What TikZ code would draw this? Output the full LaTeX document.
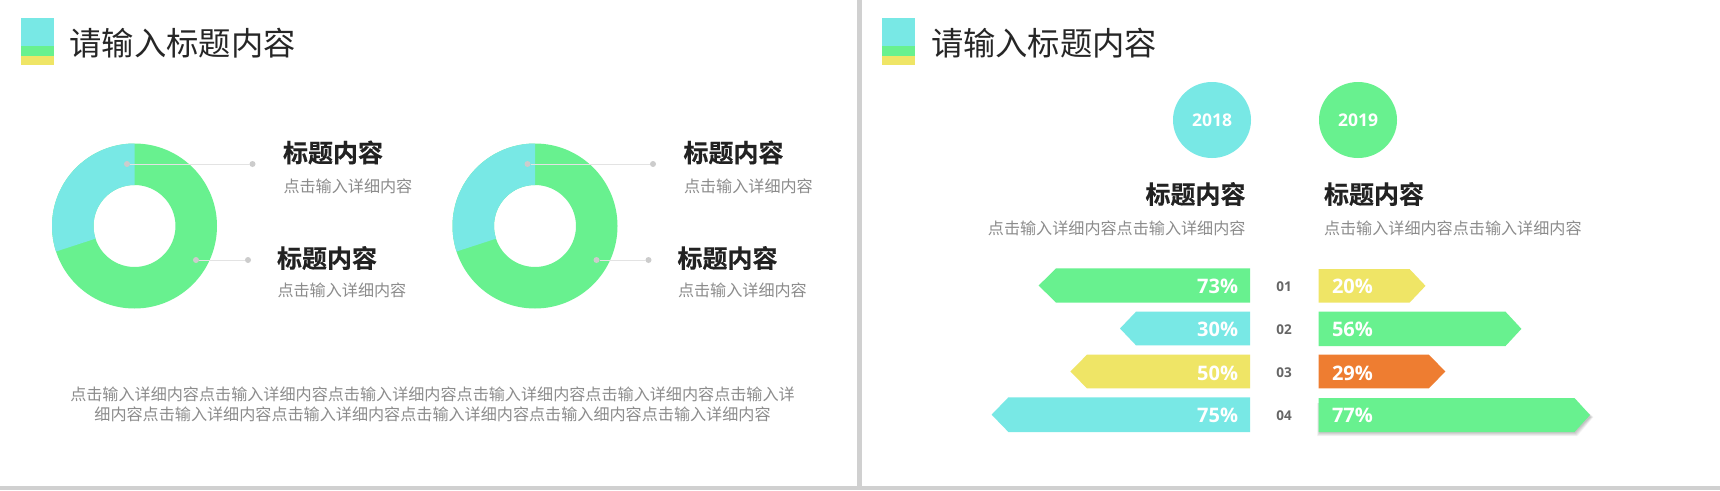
\documentclass[tikz,border=0pt]{standalone}
\usepackage{fontspec}
\setmainfont{Noto Sans CJK SC}
\newfontfamily\cjkreg{Noto Sans CJK SC}
\newfontfamily\cjkbold[FakeBold=0.35]{Noto Sans CJK SC Bold}
\newfontfamily\numfont{Open Sans Bold}
\definecolor{cy}{HTML}{78E8E5}
\definecolor{gr}{HTML}{68F18F}
\definecolor{ye}{HTML}{EFE566}
\definecolor{og}{HTML}{EE7D31}
\definecolor{sepc}{HTML}{D0D0D0}
\definecolor{ttl}{HTML}{262626}
\definecolor{hd}{HTML}{222222}
\definecolor{subc}{HTML}{8C8C8C}
\tikzset{
  x=1pt,y=-1pt,
  every node/.style={inner sep=0pt,outer sep=0pt},
  titletext/.style={font=\cjkreg\fontsize{32.3}{38}\selectfont,text=ttl,anchor=west},
  headtext/.style={font=\cjkbold\fontsize{25}{30}\selectfont,text=hd},
  subtext/.style={font=\cjkreg\fontsize{16.1}{20}\selectfont,text=subc},
  pct/.style={font=\numfont\fontsize{20}{24}\selectfont,text=white},
  rownum/.style={font=\numfont\fontsize{13.5}{16}\selectfont,text=black!60},
  yeartext/.style={font=\numfont\fontsize{17.5}{20}\selectfont,text=white},
  leaderdot/.style={circle,fill=black!20,minimum size=6pt},
  leader/.style={draw=black!11,line width=1pt},
}
\newcommand{\titlemark}[1]{%
  \fill[cy] (#1,18) rectangle ++(33,28);
  \fill[gr] (#1,46) rectangle ++(33,10);
  \fill[ye] (#1,56) rectangle ++(33,9);
}
\newcommand{\donut}[1]{%
  \fill[gr,even odd rule] (#1,226) circle[radius=82.5] (#1,226) circle[radius=41];
  \fill[cy] (#1,226) ++(-90:41) -- ++(-90:41.5) arc[start angle=-90,end angle=-198,radius=82.5] -- ++(-18:41.5) arc[start angle=-198,end angle=-90,radius=41] -- cycle;
}
\newcommand{\lbar}[5]{\fill[#1] (#2,{(#4+#5)/2}) -- (#3,#4) -- (1250,#4) -- (1250,#5) -- (#3,#5) -- cycle;}
\newcommand{\rbar}[5]{\fill[#1] (1318.6,#4) -- (#3,#4) -- (#2,{(#4+#5)/2}) -- (#3,#5) -- (1318.6,#5) -- cycle;}
\begin{document}
\begin{tikzpicture}
\useasboundingbox (0,0) rectangle (1720,490);
\fill[white] (0,0) rectangle (1720,490);
\fill[sepc] (857,0) rectangle (861.5,490);
\fill[sepc] (0,485.5) rectangle (1720,490);
\titlemark{21}
\titlemark{882.3}
\node[titletext] (t1) at (69.5,43) {请输入标题内容};
\node[titletext] (t2) at (931,43) {请输入标题内容};
\donut{134.5}
\donut{535}
\foreach \dx/\n in {0/a,400.5/b}{
  \node[leaderdot] (\n1s) at ({127+\dx},164) {};
  \node[leaderdot] (\n1e) at ({252.5+\dx},164) {};
  \node[leaderdot] (\n2s) at ({196+\dx},260) {};
  \node[leaderdot] (\n2e) at ({248+\dx},260) {};
  \draw[leader] (\n1s) -- (\n1e);
  \draw[leader] (\n2s) -- (\n2e);
  \node[headtext,anchor=west] (\n h1) at ({283+\dx},152.5) {标题内容};
  \node[subtext,anchor=west] (\n s1) at ({283.5+\dx},186) {点击输入详细内容};
  \node[headtext,anchor=west] (\n h2) at ({277+\dx},258) {标题内容};
  \node[subtext,anchor=west] (\n s2) at ({277.5+\dx},290.5) {点击输入详细内容};
}
\node[subtext] (para1) at (432.5,394) {点击输入详细内容点击输入详细内容点击输入详细内容点击输入详细内容点击输入详细内容点击输入详};
\node[subtext] (para2) at (432.5,414) {细内容点击输入详细内容点击输入详细内容点击输入详细内容点击输入细内容点击输入详细内容};
\fill[cy] (1212,120) ellipse[x radius=39,y radius=38];
\node[yeartext] (y18) at (1212,120.5) {2018};
\fill[gr] (1358,120) ellipse[x radius=39,y radius=38];
\node[yeartext] (y19) at (1358,120.5) {2019};
\node[headtext,anchor=east] (rh1) at (1245.5,194) {标题内容};
\node[subtext,anchor=east] (rs1) at (1245.5,228) {点击输入详细内容点击输入详细内容};
\node[headtext,anchor=west] (rh2) at (1324,194) {标题内容};
\node[subtext,anchor=west] (rs2) at (1324,228) {点击输入详细内容点击输入详细内容};
\lbar{gr}{1038.7}{1056}{268.3}{302.7}
\lbar{cy}{1120}{1136}{311.7}{345.3}
\lbar{ye}{1070.3}{1087}{354.7}{388.3}
\lbar{cy}{991.6}{1008.4}{397.3}{432}
\rbar{ye}{1425.5}{1409.5}{269}{302.7}
\rbar{gr}{1521.4}{1505.5}{311.7}{346}
\rbar{og}{1445.3}{1428.9}{354.7}{388.3}
\foreach \s in {1,...,7}{
  \fill[black,opacity=.035] (1320-\s*0.4,403) -- (1574.5+\s*0.4,403) -- (1590+\s*0.5,417) -- (1574.5+\s*0.4,432+\s*0.6) -- (1320-\s*0.4,432+\s*0.6) -- cycle;
}
\rbar{gr}{1590}{1574.5}{398}{432}
\foreach \yy/\l/\r/\n in {286.7/73/20/01,329.7/30/56/02,373/50/29/03,415.7/75/77/04}{
  \node[pct,anchor=east] (L\n) at (1238,\yy) {\l\%};
  \node[rownum] (N\n) at (1284,\yy) {\n};
  \node[pct,anchor=west] (R\n) at (1332,\yy) {\r\%};
}
\end{tikzpicture}
\end{document}
